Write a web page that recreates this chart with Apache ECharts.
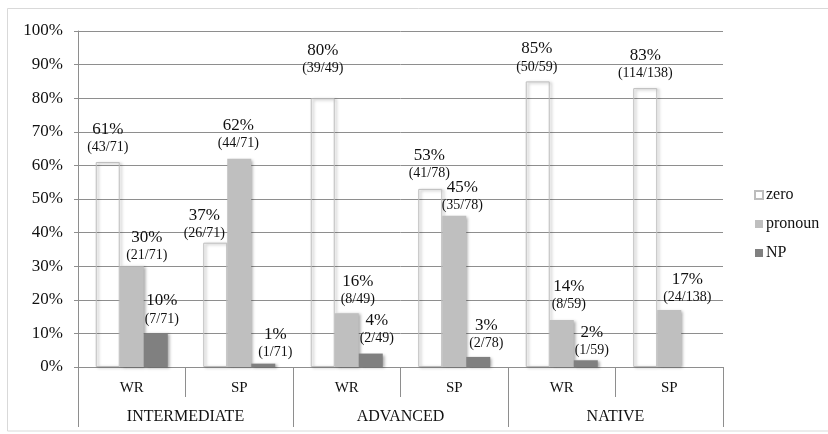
<!DOCTYPE html>
<html>
<head>
<meta charset="utf-8">
<style>
  html, body { margin: 0; padding: 0; background: #ffffff; }
  #chart { width: 828px; height: 434px; }
</style>
<script src="https://cdn.jsdelivr.net/npm/echarts@6/dist/echarts.min.js"></script>
</head>
<body>
<div id="chart"></div>
<script>
// Proficiency groups and task modes (two-level category axis)
const groups = ['INTERMEDIATE', 'ADVANCED', 'NATIVE'];
const modes = ['WR', 'SP', 'WR', 'SP', 'WR', 'SP'];

// Percentages per referring-expression type, with the raw counts behind them
const zeroPct = [61, 37, 80, 53, 85, 83];
const zeroCount = ['43/71', '26/71', '39/49', '41/78', '50/59', '114/138'];
const pronounPct = [30, 62, 16, 45, 14, 17];
const pronounCount = ['21/71', '44/71', '8/49', '35/78', '8/59', '24/138'];
const npPct = [10, 1, 4, 3, 2, 0];
const npCount = ['7/71', '1/71', '2/49', '2/78', '1/59', null];

// Label nudges [dx, dy] so the two-line labels sit clear of neighbouring bars
const zeroShift = [[0, -6], [-11, -1], [0, -21], [-1, -7], [-1, -6], [0, -6]];
const pronounShift = [[15, -2], [-1, -7], [11, -5], [8, -2], [7, -7], [18, -4]];
const npShift = [[6, -6], [12, -3], [6, -7], [8, -5], [6, -1], [0, 0]];

const SERIF = '"Liberation Serif", "Times New Roman", serif';
const GRID_GRAY = '#8e8e8e';

function buildData(values, counts, shifts) {
  return values.map((v, i) => {
    const item = { value: v };
    if (counts[i] == null) {
      item.label = { show: false };
    } else {
      item.label = { offset: shifts[i] };
      item.countText = counts[i];
    }
    return item;
  });
}

function labelFormatter(p) {
  return '{a|' + p.value + '%}\n{b|(' + p.data.countText + ')}';
}

const barLabel = {
  show: true,
  position: 'top',
  distance: 0,
  formatter: labelFormatter,
  color: '#111',
  fontFamily: SERIF,
  rich: {
    a: { fontSize: 17, lineHeight: 19, fontFamily: SERIF, color: '#111' },
    b: { fontSize: 14, lineHeight: 17, fontFamily: SERIF, color: '#111' }
  }
};

const shadow = {
  shadowBlur: 3,
  shadowOffsetX: 2,
  shadowOffsetY: 1,
  shadowColor: 'rgba(0,0,0,0.35)'
};

const chart = echarts.init(document.getElementById('chart'), null, { renderer: 'canvas' });

chart.setOption({
  animation: false,
  backgroundColor: '#ffffff',
  textStyle: { fontFamily: SERIF, color: '#111' },
  graphic: [{
    type: 'rect',
    shape: { x: 7.5, y: 8.5, width: 830, height: 422.5 },
    style: { fill: 'none', stroke: '#d9d9d9', lineWidth: 1 },
    silent: true,
    z: -1
  }],
  grid: { left: 78, right: 105, top: 31, bottom: 67, containLabel: false },
  legend: {
    orient: 'vertical',
    left: 754,
    top: 187,
    padding: 0,
    itemWidth: 8,
    itemHeight: 8,
    itemGap: 13,
    icon: 'rect',
    textStyle: { fontFamily: SERIF, fontSize: 16, color: '#111', padding: [0, 0, 0, -2] },
    data: ['zero', 'pronoun', 'NP']
  },
  xAxis: [{
    type: 'category',
    data: modes,
    position: 'bottom',
    axisLine: { show: true, lineStyle: { color: GRID_GRAY, width: 1 } },
    axisTick: { show: true, interval: 0, length: 30, lineStyle: { color: GRID_GRAY } },
    axisLabel: { interval: 0, margin: 14, fontFamily: SERIF, fontSize: 15, color: '#111' }
  }, {
    type: 'category',
    data: groups,
    position: 'bottom',
    axisLine: { show: false },
    axisTick: { show: true, interval: 0, length: 60, lineStyle: { color: GRID_GRAY } },
    axisLabel: { interval: 0, margin: 42, fontFamily: SERIF, fontSize: 16, color: '#111' }
  }],
  yAxis: {
    type: 'value',
    min: 0,
    max: 100,
    interval: 10,
    axisLine: { show: true, lineStyle: { color: GRID_GRAY, width: 1 } },
    axisTick: { show: true, length: 4, lineStyle: { color: GRID_GRAY } },
    splitLine: { show: true, lineStyle: { color: GRID_GRAY, width: 1 } },
    axisLabel: { formatter: '{value}%', margin: 15, fontFamily: SERIF, fontSize: 17, color: '#111' }
  },
  series: [{
    name: 'zero',
    type: 'bar',
    barGap: '0%',
    barCategoryGap: '33%',
    data: buildData(zeroPct, zeroCount, zeroShift),
    itemStyle: Object.assign({ color: 'rgba(255,255,255,0)', borderColor: '#bdbdbd', borderWidth: 1 }, shadow),
    label: barLabel
  }, {
    name: 'pronoun',
    type: 'bar',
    barGap: '0%',
    barCategoryGap: '33%',
    data: buildData(pronounPct, pronounCount, pronounShift),
    itemStyle: Object.assign({ color: '#bfbfbf' }, shadow),
    label: barLabel
  }, {
    name: 'NP',
    type: 'bar',
    barGap: '0%',
    barCategoryGap: '33%',
    data: buildData(npPct, npCount, npShift),
    itemStyle: Object.assign({ color: '#808080' }, shadow),
    label: barLabel
  }]
});
</script>
</body>
</html>
